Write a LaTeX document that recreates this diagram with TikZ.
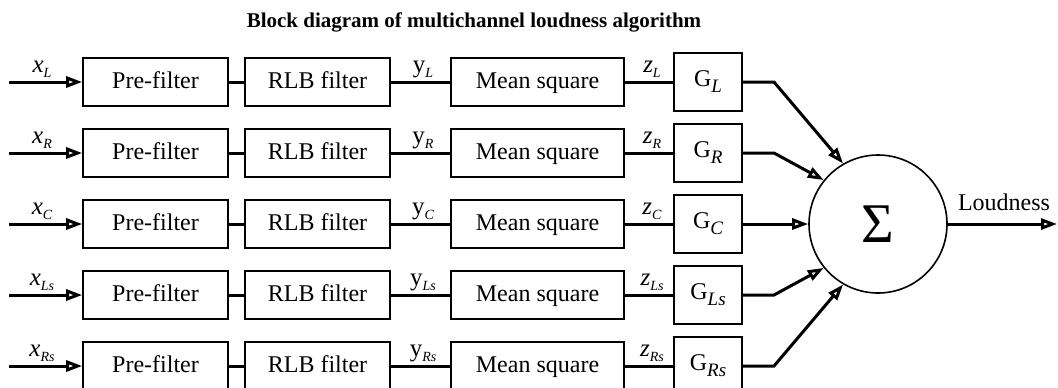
\documentclass[tikz,border=0pt]{standalone}
\usepackage{fontspec}
\setmainfont{Liberation Serif}
\usetikzlibrary{arrows.meta}
\newcommand{\lsub}[2]{#1\raisebox{-2.5pt}{\fontsize{7}{7}\selectfont\itshape #2}}
\newcommand{\gsub}[2]{#1\raisebox{-3pt}{\fontsize{9.5}{9.5}\selectfont\itshape #2}}
\begin{document}
\begin{tikzpicture}[x=0.5pt,y=-0.5pt,
  blk/.style={draw,line width=0.8pt,minimum height=24pt,inner sep=0pt,text height=8.5pt,text depth=2.5pt,font=\fontsize{12}{14}\selectfont},
  gbox/.style={draw,line width=0.8pt,minimum width=34pt,minimum height=29pt,inner sep=0pt,text height=8.5pt,text depth=4pt,font=\fontsize{12}{14}\selectfont},
  conn/.style={line width=1.5pt},
  arr/.style={conn,-{Triangle[open,length=8pt,width=5.5pt]}},
  lbl/.style={font=\fontsize{12.5}{14}\selectfont,inner sep=1pt,anchor=south}
]
\useasboundingbox (0,0) rectangle (1058,387);
\node[font=\fontsize{10.5}{12}\selectfont\bfseries] (title) at (474,22) {Block diagram of multichannel loudness algorithm};
\node[circle,draw,line width=0.8pt,minimum size=69pt,inner sep=0pt,font=\fontsize{28}{30}\selectfont] (sum) at (878,224) {Σ};
\foreach \i/\s in {1/L,2/R,3/C,4/Ls,5/Rs} {
  \pgfmathsetmacro\yy{82+71*(\i-1)}
  \coordinate (in\i) at (9,\yy);
  \node[blk,minimum width=72.5pt] (pre\i) at (155.5,\yy) {Pre-filter};
  \node[blk,minimum width=72.5pt] (rlb\i) at (317.5,\yy) {RLB filter};
  \node[blk,minimum width=86.5pt] (ms\i) at (537.5,\yy) {Mean square};
  \node[gbox] (g\i) at (708,\yy) {\gsub{G}{\s}};
  \draw[arr] (in\i) -- (pre\i.west);
  \draw[conn] (pre\i.east) -- (rlb\i.west);
  \draw[conn] (rlb\i.east) -- (ms\i.west);
  \draw[conn] (ms\i.east) -- (g\i.west);
  \node[lbl] (xl\i) at (42,\yy-2) {\lsub{\textit{x}}{\s}};
  \node[lbl] (yl\i) at (423,\yy-2) {\lsub{y}{\s}};
  \node[lbl] (zl\i) at (652,\yy-2) {\lsub{\textit{z}}{\s}};
}
\foreach \i/\ang in {1/120,2/141,4/219,5/240} {
  \pgfmathsetmacro\yy{82+71*(\i-1)}
  \coordinate (b\i) at (774,\yy);
  \draw[arr] (g\i.east) -- (b\i) -- (sum.\ang);
}
\draw[arr] (g3.east) -- (sum.west);
\coordinate (out) at (1057,224);
\draw[arr] (sum.east) -- (out);
\node[font=\fontsize{12}{14}\selectfont] (loud) at (1004,202) {Loudness};
\end{tikzpicture}
\end{document}
